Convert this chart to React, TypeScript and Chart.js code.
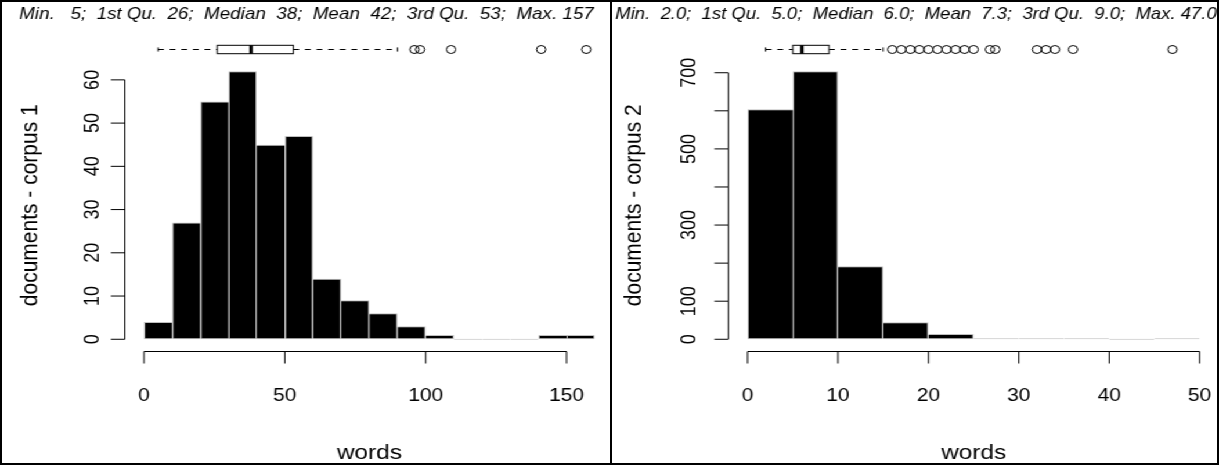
import React, { useEffect, useRef } from "react";
import { Chart, registerables } from "chart.js";

Chart.register(...registerables);

// ---------------- data ----------------
const summaryNames = ["Min.", "1st Qu.", "Median", "Mean", "3rd Qu.", "Max."];

const corpus1Breaks = [0, 10, 20, 30, 40, 50, 60, 70, 80, 90, 100, 110, 120, 130, 140, 150, 160];
const corpus1Counts = [4, 27, 55, 62, 45, 47, 14, 9, 6, 3, 1, 0, 0, 0, 1, 1];
const corpus1Summary = [5, 26, 38, 42, 53, 157];
const corpus1Box = [5, 26, 38, 53, 90]; // lower whisker, Q1, median, Q3, upper whisker
const corpus1Outliers = [96, 98, 109, 141, 157];
const corpus1XTicks = [0, 50, 100, 150];
const corpus1YTicks = [0, 10, 20, 30, 40, 50, 60];
const corpus1YLabels = ["0", "10", "20", "30", "40", "50", "60"];

const corpus2Breaks = [0, 5, 10, 15, 20, 25, 30, 35, 40, 45, 50];
const corpus2Counts = [604, 704, 192, 45, 14, 2, 3, 1, 0, 1];
const corpus2Summary = [2.0, 5.0, 6.0, 7.3, 9.0, 47.0];
const corpus2Box = [2, 5, 6, 9, 15];
const corpus2Outliers = [16, 17, 18, 19, 20, 21, 22, 23, 24, 25, 26.8, 27.4, 32, 33, 34, 36, 47];
const corpus2XTicks = [0, 10, 20, 30, 40, 50];
const corpus2YTicks = [0, 100, 200, 300, 400, 500, 600, 700];
const corpus2YLabels = ["0", "100", "", "300", "", "500", "", "700"];

// ---------------- style / layout ----------------
const STRETCH = 1219 / 1050;
const FONT = "'Liberation Sans', Arial, Helvetica, sans-serif";
const GRAY = "#bebebe";
const TICK = 12;
const TICK_FS = 18;
const TITLE_FS = 21;
const SUMMARY_FS = 16.2;
const SUMMARY_Y = 14;
const BOX_Y = 49.5;
const BOX_HALF = 4.2;
const X_AXIS_GAP = 1;
const X_LABEL_OFF = 45;
const X_TITLE_OFF = 102;
const Y_TITLE_OFF = 81;

type Panel = {
  breaks: number[];
  counts: number[];
  summary: number[];
  digits: number;
  box: number[];
  outliers: number[];
  xTicks: number[];
  yTicks: number[];
  yLabels: string[];
  yTitle: string;
  xTitle: string;
  width: number;
  padLeft: number;
  padRight: number;
  yLabelOff: number;
};

function formatSummary(values: number[], digits: number) {
  const strs = values.map((v) => v.toFixed(digits));
  const w = Math.max(...strs.map((s) => s.length));
  return summaryNames.map((n, i) => `${n} ${strs[i].padStart(w, " ")}`).join(";  ");
}

function makeDecor(p: Panel) {
  return {
    id: "rDecor",
    afterDraw(chart: any) {
      const ctx: CanvasRenderingContext2D = chart.ctx;
      const a = chart.chartArea;
      const xs = chart.scales.x;
      const ys = chart.scales.y;
      const px = (v: number) => xs.getPixelForValue(v);
      const py = (v: number) => ys.getPixelForValue(v);
      const seg = (x1: number, y1: number, x2: number, y2: number) => {
        ctx.beginPath();
        ctx.moveTo(x1, y1);
        ctx.lineTo(x2, y2);
        ctx.stroke();
      };
      ctx.save();
      ctx.strokeStyle = "#000";
      ctx.fillStyle = "#000";
      ctx.lineWidth = 1;

      // y axis
      const ax = a.left - 1;
      seg(ax, py(p.yTicks[0]), ax, py(p.yTicks[p.yTicks.length - 1]));
      p.yTicks.forEach((t) => seg(ax, py(t), ax - TICK, py(t)));
      ctx.font = `${TICK_FS}px ${FONT}`;
      ctx.textAlign = "center";
      ctx.textBaseline = "middle";
      p.yTicks.forEach((t, i) => {
        if (!p.yLabels[i]) return;
        ctx.save();
        ctx.translate(ax - p.yLabelOff, py(t));
        ctx.rotate(-Math.PI / 2);
        ctx.fillText(p.yLabels[i], 0, 0);
        ctx.restore();
      });
      ctx.font = `${TITLE_FS}px ${FONT}`;
      ctx.save();
      ctx.translate(ax - Y_TITLE_OFF, (a.top + a.bottom) / 2);
      ctx.rotate(-Math.PI / 2);
      ctx.fillText(p.yTitle, 0, 0);
      ctx.restore();

      // x axis
      const ay = Math.floor(a.bottom + X_AXIS_GAP) + 0.5;
      seg(px(p.xTicks[0]), ay, px(p.xTicks[p.xTicks.length - 1]), ay);
      p.xTicks.forEach((t) => seg(px(t), ay, px(t), ay + TICK));
      ctx.font = `${TICK_FS}px ${FONT}`;
      p.xTicks.forEach((t) => ctx.fillText(String(t), px(t), ay + X_LABEL_OFF));
      ctx.font = `${TITLE_FS}px ${FONT}`;
      const mid = (p.breaks[0] + p.breaks[p.breaks.length - 1]) / 2;
      ctx.fillText(p.xTitle, px(mid), ay + X_TITLE_OFF);

      // summary line
      ctx.font = `italic ${SUMMARY_FS}px ${FONT}`;
      ctx.fillText(formatSummary(p.summary, p.digits), chart.width / 2, SUMMARY_Y, chart.width - 4);

      // horizontal boxplot
      const [wl, q1, med, q3, wh] = p.box;
      ctx.setLineDash([5, 5]);
      seg(px(wl), BOX_Y, px(q1), BOX_Y);
      seg(px(q3), BOX_Y, px(wh), BOX_Y);
      ctx.setLineDash([]);
      seg(px(wl), BOX_Y - BOX_HALF / 2, px(wl), BOX_Y + BOX_HALF / 2);
      seg(px(wh), BOX_Y - BOX_HALF / 2, px(wh), BOX_Y + BOX_HALF / 2);
      ctx.fillStyle = "#fff";
      ctx.fillRect(px(q1), BOX_Y - BOX_HALF, px(q3) - px(q1), BOX_HALF * 2);
      ctx.strokeRect(px(q1), BOX_Y - BOX_HALF, px(q3) - px(q1), BOX_HALF * 2);
      ctx.lineWidth = 3;
      seg(px(med), BOX_Y - BOX_HALF, px(med), BOX_Y + BOX_HALF);
      ctx.lineWidth = 1;
      p.outliers.forEach((v) => {
        ctx.beginPath();
        ctx.arc(px(v), BOX_Y, 4, 0, Math.PI * 2);
        ctx.stroke();
      });
      ctx.restore();
    },
  };
}

function buildChart(canvas: HTMLCanvasElement, p: Panel) {
  const b0 = p.breaks[0];
  const bN = p.breaks[p.breaks.length - 1];
  const xr = bN - b0;
  const ymax = Math.max(...p.counts);
  const counts = p.counts;
  return new Chart(canvas, {
    type: "bar",
    data: {
      datasets: [
        {
          data: counts.map((c, i) => ({ x: (p.breaks[i] + p.breaks[i + 1]) / 2, y: c })),
          backgroundColor: "#000",
          borderColor: GRAY,
          borderWidth: (c: any) => {
            const i = c.dataIndex;
            const v = counts[i];
            const prev = i > 0 ? counts[i - 1] : -1;
            const next = i < counts.length - 1 ? counts[i + 1] : -1;
            return { top: 1, bottom: 1, left: prev <= v ? 1 : 0, right: next < v ? 1 : 0 };
          },
          borderSkipped: false,
          minBarLength: 1,
          barPercentage: 1,
          categoryPercentage: 1,
          inflateAmount: 0,
        } as any,
      ],
    },
    options: {
      responsive: false,
      animation: false,
      devicePixelRatio: 1,
      events: [],
      layout: { padding: { left: p.padLeft, right: p.padRight, top: 60.5, bottom: 115 } },
      plugins: { legend: { display: false }, tooltip: { enabled: false }, title: { display: false } },
      scales: {
        x: { type: "linear", min: b0 - 0.04 * xr, max: bN + 0.04 * xr, display: false, offset: false },
        y: { type: "linear", min: -0.04 * ymax, max: 1.04 * ymax, display: false },
      },
    } as any,
    plugins: [makeDecor(p)],
  });
}

const leftPanel: Panel = {
  breaks: corpus1Breaks,
  counts: corpus1Counts,
  summary: corpus1Summary,
  digits: 0,
  box: corpus1Box,
  outliers: corpus1Outliers,
  xTicks: corpus1XTicks,
  yTicks: corpus1YTicks,
  yLabels: corpus1YLabels,
  yTitle: "documents - corpus 1",
  xTitle: "words",
  width: 528,
  padLeft: 108.5,
  padRight: 0.2,
  yLabelOff: 27,
};

const rightPanel: Panel = {
  breaks: corpus2Breaks,
  counts: corpus2Counts,
  summary: corpus2Summary,
  digits: 1,
  box: corpus2Box,
  outliers: corpus2Outliers,
  xTicks: corpus2XTicks,
  yTicks: corpus2YTicks,
  yLabels: corpus2YLabels,
  yTitle: "documents - corpus 2",
  xTitle: "words",
  width: 522,
  padLeft: 100.4,
  padRight: 1.1,
  yLabelOff: 33,
};

export default function App() {
  const leftRef = useRef<HTMLCanvasElement>(null);
  const rightRef = useRef<HTMLCanvasElement>(null);

  useEffect(() => {
    const c1 = buildChart(leftRef.current!, leftPanel);
    const c2 = buildChart(rightRef.current!, rightPanel);
    return () => {
      c1.destroy();
      c2.destroy();
    };
  }, []);

  return (
    <div
      style={{
        position: "absolute",
        left: 0,
        top: 0,
        width: 1219,
        height: 465,
        overflow: "hidden",
        background: "#fff",
      }}
    >
      <div
        style={{
          position: "absolute",
          left: 0,
          top: 0,
          width: 1050,
          height: 465,
          transform: `scaleX(${STRETCH})`,
          transformOrigin: "0 0",
        }}
      >
        <canvas
          ref={leftRef}
          width={leftPanel.width}
          height={465}
          style={{ position: "absolute", left: 0, top: 0 }}
        />
        <canvas
          ref={rightRef}
          width={rightPanel.width}
          height={465}
          style={{ position: "absolute", left: leftPanel.width, top: 0 }}
        />
      </div>
      <div
        style={{
          position: "absolute",
          left: 0,
          top: 0,
          width: 1219,
          height: 465,
          border: "2px solid #000",
          boxSizing: "border-box",
          pointerEvents: "none",
        }}
      />
      <div style={{ position: "absolute", left: 610, top: 0, width: 2, height: 465, background: "#000" }} />
    </div>
  );
}
